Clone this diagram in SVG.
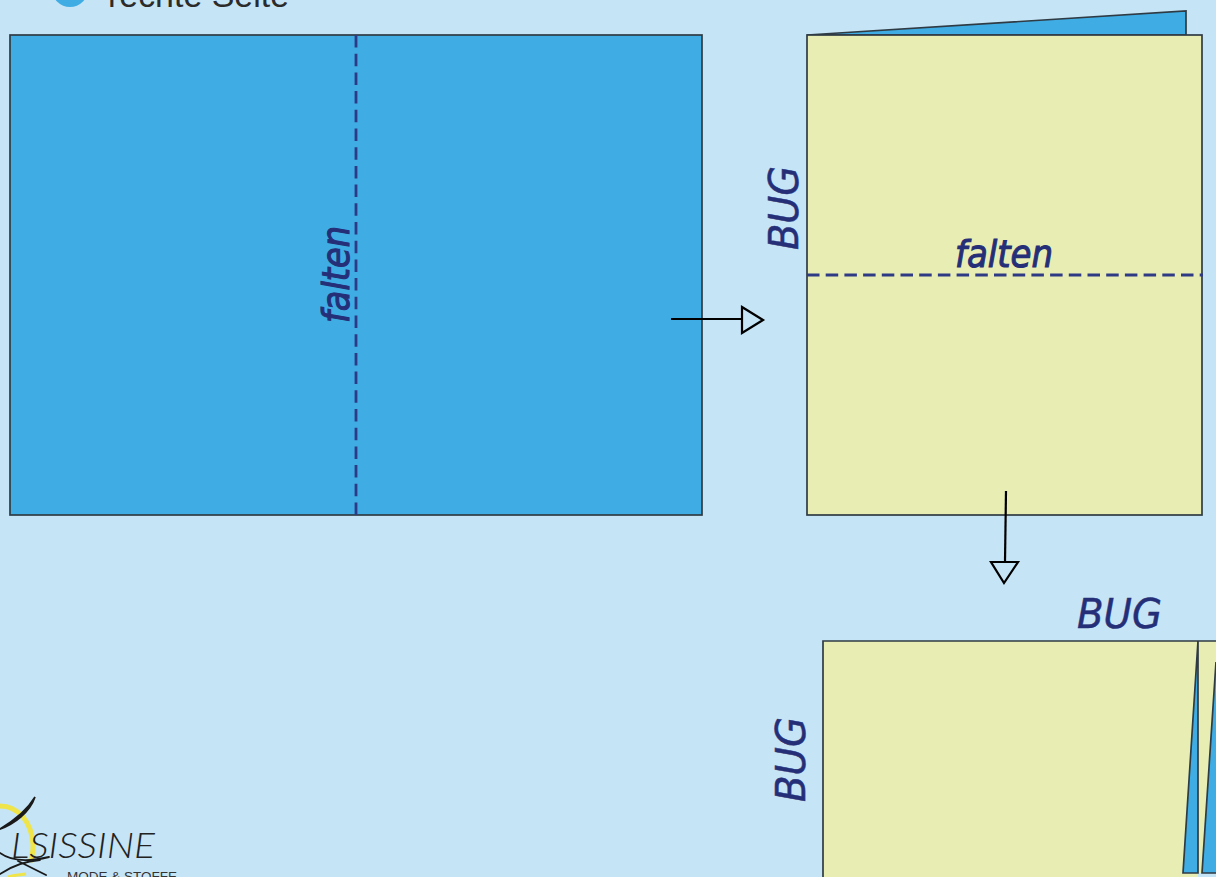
<svg xmlns="http://www.w3.org/2000/svg" width="1216" height="877" viewBox="0 0 1216 877">
<style>
.sheet{stroke:#2f3b44;stroke-width:1.7}
.blue{fill:#3fade4}
.cream{fill:#e8edb4}
.fold{fill:none;stroke:#2f3a85;stroke-width:2.8;stroke-dasharray:12.5 6.2}
.hand{font-family:"DejaVu Sans",sans-serif;font-style:oblique;fill:#252f78;stroke:#252f78;stroke-width:1.1}
.thin{stroke-width:.5}
.arrow{fill:none;stroke:#000;stroke-width:2.2}
.logo{fill:none;stroke:#1a1a1a;stroke-linecap:round}
</style>
<rect width="1216" height="877" fill="#c5e4f6"/>
<g id="legend">
<circle cx="70" cy="-11" r="18" class="blue"/>
<text x="108" y="7" font-family="'Liberation Sans',sans-serif" font-size="33" fill="#2b2b2b" textLength="181" lengthAdjust="spacingAndGlyphs">rechte Seite</text>
</g>
<g id="sheet-open">
<rect x="10" y="35" width="692" height="480" class="blue sheet"/>
<line x1="356" y1="35" x2="356" y2="515" class="fold"/>
<text class="hand" transform="translate(349 323) rotate(-90)" font-size="38" textLength="97" lengthAdjust="spacingAndGlyphs">falten</text>
</g>
<g id="sheet-half">
<polygon points="807,35 1186,11 1186,35" class="blue sheet"/>
<rect x="807" y="35" width="395" height="480" class="cream sheet"/>
<line x1="807" y1="275" x2="1203" y2="275" class="fold"/>
<text class="hand" x="955" y="267" font-size="38" textLength="98" lengthAdjust="spacingAndGlyphs">falten</text>
<text class="hand thin" transform="translate(798 250) rotate(-90)" font-size="40" textLength="84" lengthAdjust="spacingAndGlyphs">BUG</text>
</g>
<g id="sheet-quarter">
<polygon points="1198,641 1216,641 1216,662 1202,873 1198,873" class="cream"/>
<polygon points="1216,662 1216,873 1202,873" class="blue"/>
<path d="M1216,662 L1202,873 H1216" fill="none" stroke="#2f3b44" stroke-width="1.7"/>
<polygon points="823,641 1198,641 1183,873 1183,901 823,901" class="cream"/>
<polygon points="1198,641 1198,873 1183,873" class="blue"/>
<polygon points="1183,873 1198,873 1198,877 1183,877" class="cream"/>
<path d="M823,901 V641 H1216 M1198,641 V873 H1183 L1198,641" fill="none" stroke="#2f3b44" stroke-width="1.7"/>
<text class="hand thin" x="1077" y="628" font-size="40" textLength="85" lengthAdjust="spacingAndGlyphs">BUG</text>
<text class="hand thin" transform="translate(805 802) rotate(-90)" font-size="40" textLength="85" lengthAdjust="spacingAndGlyphs">BUG</text>
</g>
<g id="connectors">
<path class="arrow" d="M671,319 H742"/>
<polygon class="arrow" points="742,307 763,320 742,333"/>
<path class="arrow" d="M1006,491 L1005,562"/>
<polygon class="arrow" points="991,562 1018,562 1004,583"/>
</g>
<g id="logo">
<path d="M0,806 C18,806 32,822 33,845 C33,852 32,858 30,862" fill="none" stroke="#efe54a" stroke-width="5"/>
<path d="M8,877 C14,875 20,875 26,874" fill="none" stroke="#efe54a" stroke-width="3"/>
<path d="M35,797 C30,812 15,824 -2,830 C12,822 26,812 35,797Z" fill="#1a1a1a" stroke="#1a1a1a" stroke-width="1.6"/>
<path class="logo" d="M0,853 C12,862 28,862 49,857" stroke-width="1.8"/>
<path class="logo" d="M0,874 C12,866 26,861 40,860 M18,861 L46,875" stroke-width="1.8"/>
<text x="11" y="858" font-family="Lato,'Liberation Sans',sans-serif" font-style="italic" font-weight="300" font-size="36" fill="#222" textLength="144" lengthAdjust="spacingAndGlyphs">LSISSINE</text>
<text x="67" y="881" font-family="'Liberation Sans',sans-serif" font-size="12.5" fill="#333" textLength="110" lengthAdjust="spacingAndGlyphs">MODE &amp; STOFFE</text>
</g>
</svg>
